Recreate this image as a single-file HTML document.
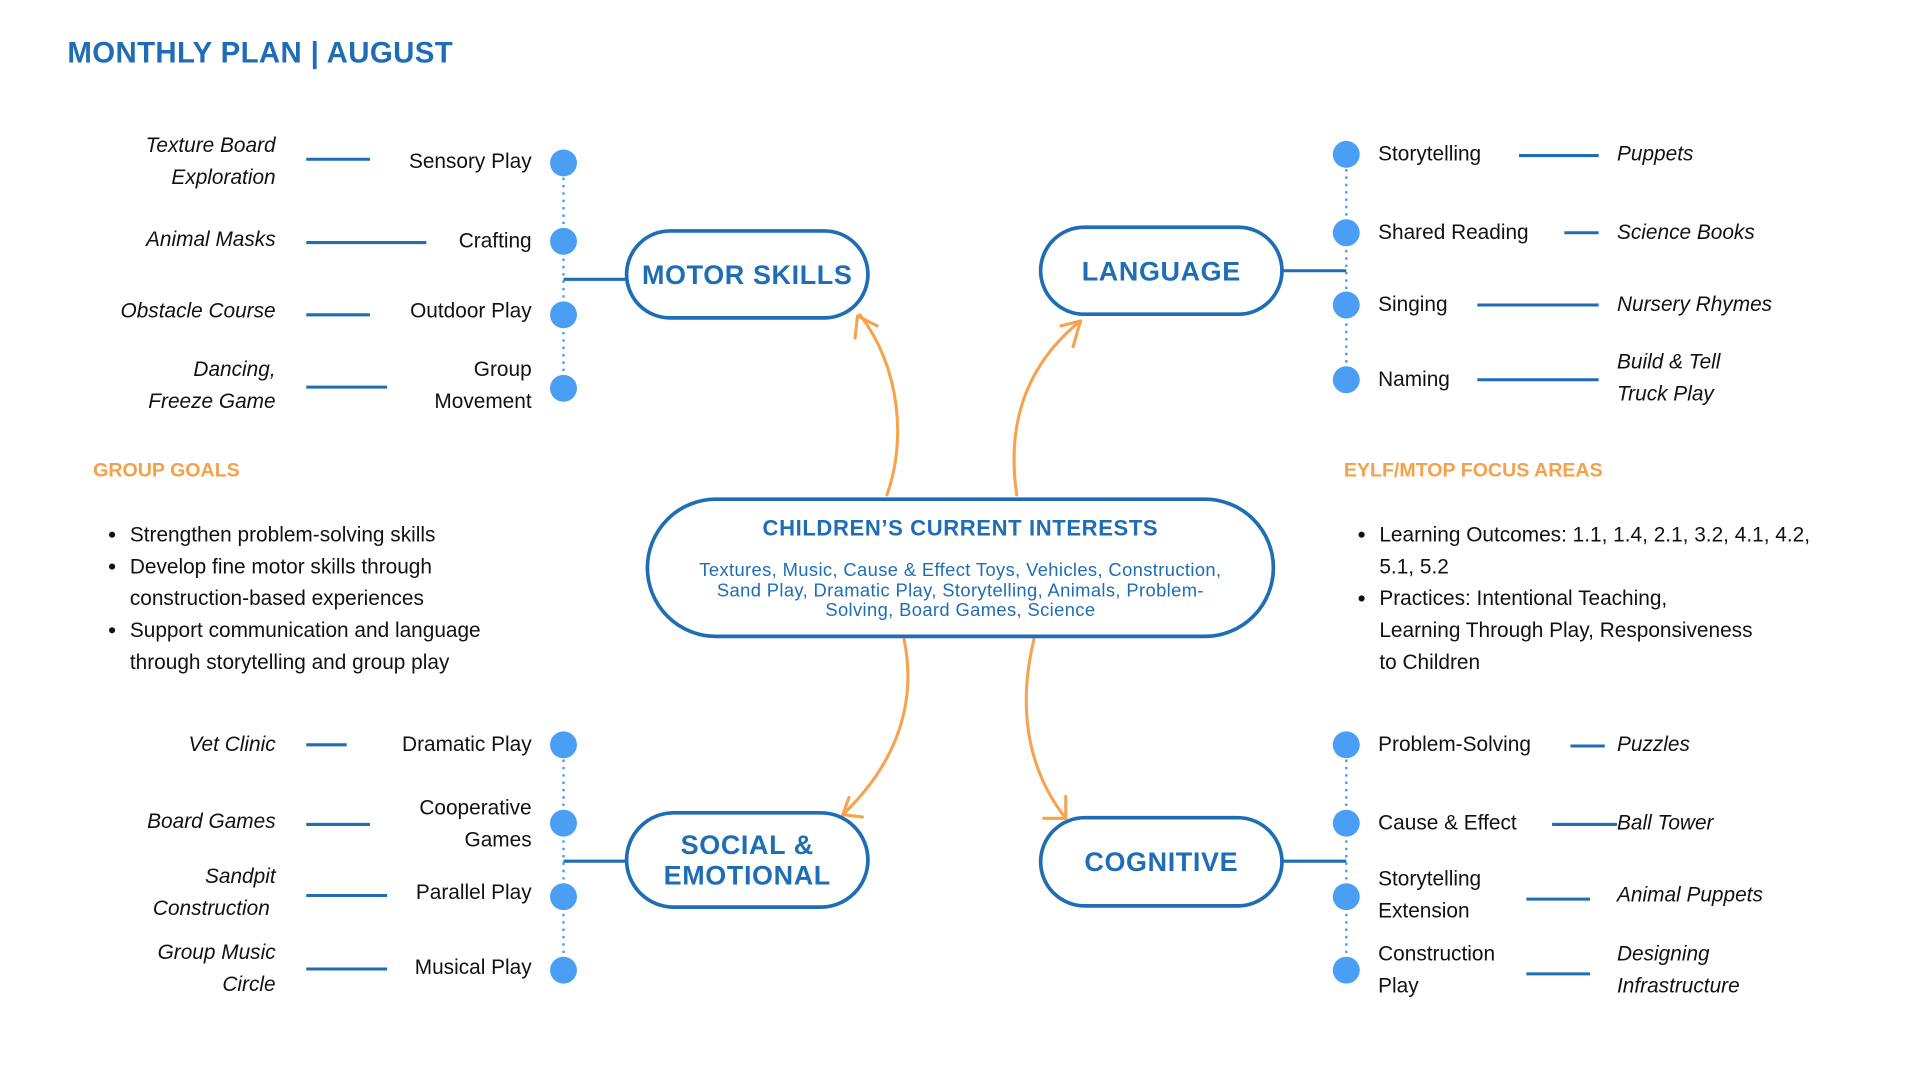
<!DOCTYPE html>
<html><head><meta charset="utf-8"><style>
html,body{margin:0;padding:0;background:#fff;width:1920px;height:1080px;overflow:hidden}
#w{position:absolute;left:0;top:0;width:1560px;height:878px;transform:scale(1.225);transform-origin:0 0;font-family:"Liberation Sans",sans-serif}
.t{position:absolute;font-size:17px;color:#111;line-height:26px;white-space:nowrap}
.r{text-align:right}
.i{font-style:italic}
.box{position:absolute;border:3px solid #1f6db5;border-radius:40px;box-sizing:border-box;color:#1f6db5;font-weight:bold;font-size:22px;display:flex;align-items:center;justify-content:center;text-align:center;line-height:25px;letter-spacing:0.5px}
.h{position:absolute;color:#f5a04a;font-weight:bold;font-size:16px}
ul{margin:0;padding-left:20px}
</style></head><body><div id="w">
<div style="position:absolute;left:55px;top:30px;font-size:24px;font-weight:bold;color:#1f6db5;letter-spacing:0.3px">MONTHLY PLAN | AUGUST</div>

<svg width="1560" height="878" style="position:absolute;left:0;top:0">
<g stroke="#4a9ff5" stroke-width="2" stroke-dasharray="2,4" fill="none">
<line x1="460" y1="133" x2="460" y2="317"/><line x1="1099" y1="126" x2="1099" y2="310"/>
<line x1="460" y1="608" x2="460" y2="792"/><line x1="1099" y1="608" x2="1099" y2="792"/>
</g>
<g stroke="#1f6db5" stroke-width="2.5">
<line x1="460" y1="228" x2="511" y2="228"/><line x1="1047" y1="221" x2="1099" y2="221"/>
<line x1="460" y1="703" x2="511" y2="703"/><line x1="1047" y1="703" x2="1099" y2="703"/>
<line x1="250" y1="130" x2="302" y2="130"/><line x1="250" y1="198" x2="348" y2="198"/>
<line x1="250" y1="257" x2="302" y2="257"/><line x1="250" y1="316" x2="316" y2="316"/>
<line x1="250" y1="608" x2="283" y2="608"/><line x1="250" y1="673" x2="302" y2="673"/>
<line x1="250" y1="731" x2="316" y2="731"/><line x1="250" y1="791" x2="316" y2="791"/>
<line x1="1240" y1="127" x2="1305" y2="127"/><line x1="1277" y1="190" x2="1305" y2="190"/>
<line x1="1206" y1="249" x2="1305" y2="249"/><line x1="1206" y1="310" x2="1305" y2="310"/>
<line x1="1282" y1="609" x2="1310" y2="609"/><line x1="1267" y1="673" x2="1320" y2="673"/>
<line x1="1246" y1="734" x2="1298" y2="734"/><line x1="1246" y1="795" x2="1298" y2="795"/>
</g>
<g fill="#4a9ff5">
<circle cx="460" cy="133" r="11"/><circle cx="460" cy="197" r="11"/><circle cx="460" cy="257" r="11"/><circle cx="460" cy="317" r="11"/>
<circle cx="1099" cy="126" r="11"/><circle cx="1099" cy="190" r="11"/><circle cx="1099" cy="249" r="11"/><circle cx="1099" cy="310" r="11"/>
<circle cx="460" cy="608" r="11"/><circle cx="460" cy="672" r="11"/><circle cx="460" cy="732" r="11"/><circle cx="460" cy="792" r="11"/>
<circle cx="1099" cy="608" r="11"/><circle cx="1099" cy="672" r="11"/><circle cx="1099" cy="732" r="11"/><circle cx="1099" cy="792" r="11"/>
</g>
<g stroke="#f7a24c" stroke-width="2.5" fill="none" stroke-linecap="round">
<path d="M724 404 C740 360 735 300 702 257"/><path d="M700 258 L698 276 M700 258 L716 266"/>
<path d="M830 404 C822 350 835 300 882 262"/><path d="M882 262 L866 266 M882 262 L876 283"/>
<path d="M738 522 C748 570 735 620 688 665"/><path d="M688 665 L704 667 M688 665 L693 651"/>
<path d="M844 522 C830 580 840 630 870 668"/><path d="M870 668 L852 668 M870 668 L870 650"/>
</g>
</svg>

<div class="box" style="left:510px;top:187px;width:200px;height:74px">MOTOR SKILLS</div>
<div class="box" style="left:848px;top:184px;width:200px;height:74px">LANGUAGE</div>
<div class="box" style="left:510px;top:662px;width:200px;height:80px">SOCIAL &amp;<br>EMOTIONAL</div>
<div class="box" style="left:848px;top:666px;width:200px;height:75px">COGNITIVE</div>
<div class="box" style="left:527px;top:406px;width:514px;height:115px;border-radius:58px;flex-direction:column;justify-content:flex-start;padding-top:10px">
<div style="font-size:18px">CHILDREN’S CURRENT INTERESTS</div>
<div style="font-weight:normal;font-size:15px;line-height:16.5px;margin-top:14px;letter-spacing:0.3px">Textures, Music, Cause &amp; Effect Toys, Vehicles, Construction,<br>Sand Play, Dramatic Play, Storytelling, Animals, Problem-<br>Solving, Board Games, Science</div></div>

<div class="t i r" style="right:1335px;top:106px">Texture Board<br>Exploration</div>
<div class="t r" style="right:1126px;top:119px">Sensory Play</div>
<div class="t i r" style="right:1335px;top:183px">Animal Masks</div>
<div class="t r" style="right:1126px;top:184px">Crafting</div>
<div class="t i r" style="right:1335px;top:241px">Obstacle Course</div>
<div class="t r" style="right:1126px;top:241px">Outdoor Play</div>
<div class="t i r" style="right:1335px;top:289px">Dancing,<br>Freeze Game</div>
<div class="t r" style="right:1126px;top:289px">Group<br>Movement</div>

<div class="t i r" style="right:1335px;top:595px">Vet Clinic</div>
<div class="t r" style="right:1126px;top:595px">Dramatic Play</div>
<div class="t i r" style="right:1335px;top:658px">Board Games</div>
<div class="t r" style="right:1126px;top:647px">Cooperative<br>Games</div>
<div class="t i r" style="right:1335px;top:703px">Sandpit<br>Construction&nbsp;</div>
<div class="t r" style="right:1126px;top:716px">Parallel Play</div>
<div class="t i r" style="right:1335px;top:765px">Group Music<br>Circle</div>
<div class="t r" style="right:1126px;top:777px">Musical Play</div>

<div class="t" style="left:1125px;top:113px">Storytelling</div>
<div class="t i" style="left:1320px;top:113px">Puppets</div>
<div class="t" style="left:1125px;top:177px">Shared Reading</div>
<div class="t i" style="left:1320px;top:177px">Science Books</div>
<div class="t" style="left:1125px;top:236px">Singing</div>
<div class="t i" style="left:1320px;top:236px">Nursery Rhymes</div>
<div class="t" style="left:1125px;top:297px">Naming</div>
<div class="t i" style="left:1320px;top:283px">Build &amp; Tell<br>Truck Play</div>

<div class="t" style="left:1125px;top:595px">Problem-Solving</div>
<div class="t i" style="left:1320px;top:595px">Puzzles</div>
<div class="t" style="left:1125px;top:659px">Cause &amp; Effect</div>
<div class="t i" style="left:1320px;top:659px">Ball Tower</div>
<div class="t" style="left:1125px;top:705px">Storytelling<br>Extension</div>
<div class="t i" style="left:1320px;top:718px">Animal Puppets</div>
<div class="t" style="left:1125px;top:766px">Construction<br>Play</div>
<div class="t i" style="left:1320px;top:766px">Designing<br>Infrastructure</div>

<div class="h" style="left:76px;top:376px">GROUP GOALS</div>
<div class="h" style="left:1097px;top:376px">EYLF/MTOP FOCUS AREAS</div>
<div class="t" style="left:86px;top:424px;white-space:normal;width:370px"><ul>
<li>Strengthen problem-solving skills</li>
<li>Develop fine motor skills through<br>construction-based experiences</li>
<li>Support communication and language<br>through storytelling and group play</li></ul></div>
<div class="t" style="left:1106px;top:424px;white-space:normal;width:390px"><ul>
<li>Learning Outcomes: 1.1, 1.4, 2.1, 3.2, 4.1, 4.2,<br>5.1, 5.2</li>
<li>Practices: Intentional Teaching,<br>Learning Through Play, Responsiveness<br>to Children</li></ul></div>
</div></body></html>
